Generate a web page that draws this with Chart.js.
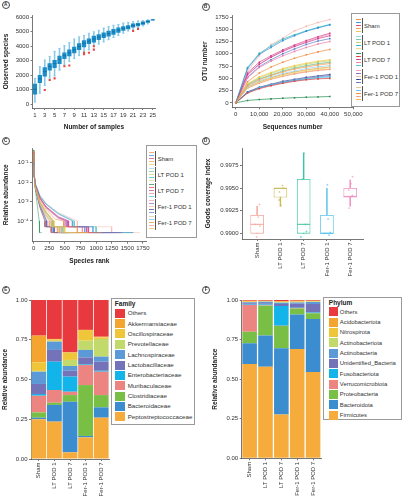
<!DOCTYPE html>
<html><head><meta charset="utf-8">
<script src="https://cdn.jsdelivr.net/npm/chart.js@4/dist/chart.umd.min.js"></script>
<style>
html,body{margin:0;padding:0;background:#fff;}
#page{position:relative;width:403px;height:500px;overflow:hidden;font-family:"Liberation Sans",Arial,Helvetica,sans-serif;color:#333;}
canvas{position:absolute;}
.tag{position:absolute;width:6.4px;height:6.4px;border:0.8px solid #444;border-radius:50%;font-size:4.6px;font-weight:bold;line-height:6.4px;text-align:center;color:#333;}
.lg{position:absolute;border:1px solid #9a9a9a;box-sizing:border-box;background:#fff;}
.lg div{position:absolute;white-space:nowrap;}
</style></head>
<body><div id="page">
<canvas id="cA" width="160" height="125" style="left:0;top:10px"></canvas>
<canvas id="cB" width="203" height="125" style="left:200px;top:10px"></canvas>
<canvas id="cC" width="200" height="133" style="left:0;top:137px"></canvas>
<canvas id="cD" width="203" height="150" style="left:200px;top:137px"></canvas>
<canvas id="cE" width="112" height="210" style="left:0;top:290px"></canvas>
<canvas id="cF" width="124" height="210" style="left:200px;top:290px"></canvas>
<div class="tag" style="left:1.5px;top:1px">A</div>
<div class="tag" style="left:201.5px;top:2.5px">B</div>
<div class="tag" style="left:1.5px;top:136.5px">C</div>
<div class="tag" style="left:201.5px;top:136.5px">D</div>
<div class="tag" style="left:1.5px;top:285.5px">E</div>
<div class="tag" style="left:202px;top:285.5px">F</div>
<div id="legB" class="lg" style="left:351px;top:13px;width:49px;height:94px"></div>
<div id="legC" class="lg" style="left:146px;top:145px;width:51px;height:93px"></div>
<div id="legE" class="lg" style="left:111px;top:298px;width:84px;height:127px"></div>
<div id="legF" class="lg" style="left:323px;top:297px;width:79px;height:123px"></div>
</div>
<script>
// ---------- DATA ----------
const GROUPS = ['Sham','LT POD 1','LT POD 7','Fer-1 POD 1','Fer-1 POD 7'];

// Panel A: species accumulation boxplots
const A_SAMPLES = [1,2,3,4,5,6,7,8,9,10,11,12,13,14,15,16,17,18,19,20,21,22,23,24,25];
const A_LO  = [150,750,1300,1800,1950,2350,2700,2950,3150,3350,3600,3750,4000,4150,4300,4450,4600,4750,4900,5050,5150,5300,5400,5550,5820];
const A_Q1  = [700,1480,1940,2350,2530,2800,3150,3330,3540,3760,3950,4180,4290,4450,4590,4700,4810,4950,5090,5200,5320,5410,5500,5640,5810];
const A_MED = [1030,1750,2250,2600,2800,3100,3350,3550,3750,3980,4200,4350,4500,4630,4760,4870,4990,5110,5230,5320,5430,5500,5590,5710,5820];
const A_Q3  = [1390,2000,2530,2800,3030,3330,3540,3760,3950,4180,4400,4520,4700,4810,4930,5040,5160,5270,5360,5430,5540,5590,5680,5770,5830];
const A_HI  = [1780,2600,3050,3300,3650,3850,4050,4250,4500,4650,4750,4900,5000,5100,5250,5350,5450,5500,5600,5650,5700,5750,5780,5820,5830];
const A_OUT_SAMPLE = [3,4,5,7,8,11,11,12,13,13,21,22];
const A_OUT_VALUE  = [980,1670,1780,2620,2670,3450,3550,3550,3770,4000,5050,5200];
const A_X_TICKS = [1,3,5,7,9,11,13,15,17,19,21,23,25];
const A_Y_TICKS = [0,1000,2000,3000,4000,5000,6000];

// Panel B: rarefaction curves (25 samples, 5 per group)
const SAMPLE_COLORS = [
 '#f08a3c','#2f8fd8','#d63c82','#f5a05a','#eec640',
 '#8fd3e8','#6cc3a0','#bcd35a','#2bb3b8','#e6dc86',
 '#1b8a4c','#e23b3b','#c8378f','#f07aa8','#3fc0e0',
 '#f29ac0','#8b63b8','#f6b3a8','#2d3f8f','#5a78d0',
 '#e2c39a','#68bfe8','#f28a24','#f29a8a','#f5b24a'];
const B_SEQ = [0,5000,10000,15000,20000,25000,30000,35000,40000];
const B_OTU = [
 [0,430,610,730,830,910,980,1040,1090],
 [0,700,990,1130,1270,1370,1460,1530,1590],
 [0,610,830,960,1080,1180,1270,1350,1420],
 [0,350,470,560,630,690,730,770,800],
 [0,390,530,620,700,760,810,850,880],
 [0,330,450,530,600,650,700,735,760],
 [0,370,490,570,650,710,760,800,830],
 [0,380,510,600,680,740,790,830,860],
 [0,720,1010,1160,1300,1390,1470,1540,1600],
 [0,310,420,500,560,620,660,690,720],
 [0,50,68,82,95,105,115,122,130],
 [0,200,290,350,400,440,470,490,500],
 [0,580,790,930,1050,1150,1230,1310,1370],
 [0,510,720,850,960,1050,1130,1200,1250],
 [0,210,310,370,420,460,490,520,540],
 [0,560,780,940,1060,1160,1250,1330,1400],
 [0,215,310,370,420,460,500,530,560],
 [0,650,960,1190,1320,1470,1560,1640,1700],
 [0,225,320,380,440,480,520,550,580],
 [0,520,740,880,1000,1100,1190,1260,1310],
 [0,360,480,560,640,700,750,790,820],
 [0,205,300,360,410,450,480,505,520],
 [0,320,430,510,580,630,670,705,730],
 [0,300,400,480,540,590,630,660,680],
 [0,305,410,490,550,600,640,670,690]];
const B_X_TICKS = [0,10000,20000,30000,40000,50000];
const B_Y_TICKS = [0,250,500,750,1000,1250,1500,1750];

// Panel C: rank-abundance curves [rank, relative abundance]
const C_CURVES = [
 [[1,.32],[3,.09],[10,.022],[30,.006],[100,.0012],[200,4e-4],[350,1.2e-4],[480,1e-4],[480,5e-5],[700,5e-5],[700,2.5e-5],[1090,2.5e-5]],
 [[1,.28],[3,.07],[10,.02],[30,.008],[100,.0019],[200,7e-4],[400,2.2e-4],[620,1e-4],[620,5e-5],[950,5e-5],[950,2.5e-5],[1590,2.5e-5]],
 [[1,.36],[3,.08],[10,.022],[30,.007],[100,.0016],[200,5.5e-4],[400,1.6e-4],[560,1e-4],[560,5e-5],[880,5e-5],[880,2.5e-5],[1420,2.5e-5]],
 [[1,.4],[3,.1],[10,.025],[30,.005],[100,9e-4],[200,2.6e-4],[300,1e-4],[300,5e-5],[450,5e-5],[450,2.5e-5],[800,2.5e-5]],
 [[1,.3],[3,.09],[10,.021],[30,.0055],[100,.001],[200,3e-4],[330,1e-4],[330,5e-5],[500,5e-5],[500,2.5e-5],[880,2.5e-5]],
 [[1,.34],[3,.1],[10,.024],[30,.005],[100,8e-4],[200,2.2e-4],[290,1e-4],[290,5e-5],[430,5e-5],[430,2.5e-5],[760,2.5e-5]],
 [[1,.3],[3,.085],[10,.02],[30,.0052],[100,9.5e-4],[200,2.8e-4],[310,1e-4],[310,5e-5],[470,5e-5],[470,2.5e-5],[830,2.5e-5]],
 [[1,.33],[3,.09],[10,.023],[30,.0056],[100,.001],[200,3e-4],[320,1e-4],[320,5e-5],[490,5e-5],[490,2.5e-5],[860,2.5e-5]],
 [[1,.25],[3,.06],[10,.018],[30,.0075],[100,.002],[200,7.5e-4],[400,2.4e-4],[650,1e-4],[650,5e-5],[1000,5e-5],[1000,2.5e-5],[1600,2.5e-5]],
 [[1,.38],[3,.1],[10,.024],[30,.0048],[100,7.5e-4],[200,2e-4],[270,1e-4],[270,5e-5],[400,5e-5],[400,2.5e-5],[720,2.5e-5]],
 [[1,.45],[3,.12],[10,.03],[30,.004],[60,6e-4],[90,1e-4],[95,2.5e-5],[130,2.5e-5]],
 [[1,.4],[3,.11],[10,.025],[30,.0045],[100,5e-4],[180,1e-4],[180,5e-5],[280,5e-5],[280,2.5e-5],[500,2.5e-5]],
 [[1,.33],[3,.08],[10,.021],[30,.0068],[100,.0015],[200,5e-4],[400,1.5e-4],[540,1e-4],[540,5e-5],[850,5e-5],[850,2.5e-5],[1370,2.5e-5]],
 [[1,.35],[3,.085],[10,.022],[30,.0065],[100,.0014],[200,4.5e-4],[400,1.3e-4],[500,1e-4],[500,5e-5],[780,5e-5],[780,2.5e-5],[1250,2.5e-5]],
 [[1,.42],[3,.1],[10,.024],[30,.0046],[100,5.5e-4],[190,1e-4],[190,5e-5],[300,5e-5],[300,2.5e-5],[540,2.5e-5]],
 [[1,.3],[3,.075],[10,.02],[30,.0068],[100,.0016],[200,5.5e-4],[400,1.6e-4],[560,1e-4],[560,5e-5],[870,5e-5],[870,2.5e-5],[1400,2.5e-5]],
 [[1,.36],[3,.1],[10,.023],[30,.0047],[100,6e-4],[200,1.1e-4],[210,1e-4],[210,5e-5],[320,5e-5],[320,2.5e-5],[560,2.5e-5]],
 [[1,.26],[3,.065],[10,.019],[30,.008],[100,.0021],[200,8e-4],[400,2.6e-4],[700,1e-4],[700,5e-5],[1250,5e-5],[1250,2.5e-5],[1700,2.5e-5]],
 [[1,.38],[3,.1],[10,.024],[30,.0048],[100,6.2e-4],[210,1e-4],[210,5e-5],[330,5e-5],[330,2.5e-5],[580,2.5e-5]],
 [[1,.31],[3,.08],[10,.021],[30,.0066],[100,.0015],[200,5e-4],[400,1.4e-4],[520,1e-4],[520,5e-5],[820,5e-5],[820,2.5e-5],[1310,2.5e-5]],
 [[1,.35],[3,.09],[10,.022],[30,.0053],[100,9e-4],[200,2.7e-4],[310,1e-4],[310,5e-5],[460,5e-5],[460,2.5e-5],[820,2.5e-5]],
 [[1,.4],[3,.11],[10,.025],[30,.0045],[100,5.2e-4],[185,1e-4],[185,5e-5],[290,5e-5],[290,2.5e-5],[520,2.5e-5]],
 [[1,.33],[3,.095],[10,.023],[30,.005],[100,8e-4],[200,2.1e-4],[280,1e-4],[280,5e-5],[410,5e-5],[410,2.5e-5],[730,2.5e-5]],
 [[1,.37],[3,.1],[10,.024],[30,.0049],[100,7e-4],[200,1.7e-4],[250,1e-4],[250,5e-5],[380,5e-5],[380,2.5e-5],[680,2.5e-5]],
 [[1,.36],[3,.1],[10,.023],[30,.0049],[100,7.2e-4],[200,1.8e-4],[260,1e-4],[260,5e-5],[390,5e-5],[390,2.5e-5],[690,2.5e-5]]];
const C_X_TICKS = [0,250,500,750,1000,1250,1500,1750];
const C_Y_TICKS = [1e-4,1e-3,1e-2,1e-1];

// Panel D: Good's coverage boxplots
const D_COLORS = ['#f4a39b','#c9bb55','#3cc5a4','#59c3ec','#f18dbf'];
const D_LO  = [0.9900,0.9930,0.9900,0.9900,0.9930];
const D_Q1  = [0.9900,0.9940,0.9900,0.9900,0.9940];
const D_MED = [0.9910,0.9950,0.9910,0.9900,0.9941];
const D_Q3  = [0.9920,0.9950,0.9960,0.9920,0.9950];
const D_HI  = [0.9930,0.9950,0.9989,0.9950,0.9959];
const D_POINTS = [
 [0.9932,0.9918,0.9908,0.9910,0.9896],
 [0.9953,0.9946,0.9937,0.9931,0.9950],
 [0.9989,0.9960,0.9910,0.9902,0.9896],
 [0.9954,0.9916,0.9900,0.9898,0.9901],
 [0.9963,0.9955,0.9948,0.9942,0.9928]];
const D_JITTER = [
 [0.10,0.05,0.12,-0.08,-0.02],
 [0.09,-0.04,-0.06,0.02,0.12],
 [0.01,-0.05,0.08,0.12,-0.12],
 [0.02,0.05,-0.10,0.09,0.14],
 [0.10,0.03,-0.06,0.09,-0.05]];
const D_Y_TICKS = [0.9900,0.9925,0.9950,0.9975];

// Panel E: family composition (legend order, top to bottom)
const E_FAMILIES = ['Others','Akkermansiaceae','Oscillospiraceae','Prevotellaceae','Lachnospiraceae','Lactobacillaceae','Enterobacteriaceae','Muribaculaceae','Clostridiaceae','Bacteroidaceae','Peptostreptococcaceae'];
const E_COLORS = ['#e8393e','#f4a52f','#efc63a','#c2da6b','#5b9ad6','#7472b8','#13b4ea','#ec8581','#79bf45','#3b8dd0','#f5ac3c'];
const E_VALUES = [
 [0.224,0.245,0.329,0.188,0.231],
 [0.168,0.004,0.002,0.001,0.004],
 [0.054,0.008,0.046,0.067,0.010],
 [0.005,0.005,0.038,0.058,0.111],
 [0.077,0.052,0.030,0.047,0.032],
 [0.063,0.074,0.037,0.044,0.057],
 [0.011,0.178,0.095,0.004,0.006],
 [0.105,0.080,0.021,0.126,0.147],
 [0.033,0.014,0.042,0.320,0.077],
 [0.010,0.105,0.318,0.009,0.065],
 [0.250,0.235,0.042,0.136,0.260]];

// Panel F: phylum composition (legend order, top to bottom)
const F_PHYLA = ['Others','Acidobacteriota','Nitrospirota','Actinobacteriota','Actinobacteria','Unidentified_Bacteria','Fusobacteriota','Verrucomicrobiota','Proteobacteria','Bacteroidota','Firmicutes'];
const F_COLORS = ['#e8393e','#f4a52f','#efc63a','#c2da6b','#5b9ad6','#7472b8','#13b4ea','#ec8581','#79bf45','#3b8dd0','#f5ac3c'];
const F_VALUES = [
 [0.005,0.004,0.007,0.005,0.004],
 [0.005,0.003,0.004,0.005,0.004],
 [0.002,0.002,0.003,0.003,0.002],
 [0.003,0.002,0.003,0.003,0.002],
 [0.006,0.010,0.008,0.008,0.013],
 [0.008,0.008,0.013,0.025,0.054],
 [0.003,0.004,0.124,0.002,0.003],
 [0.168,0.003,0.002,0.002,0.002],
 [0.074,0.189,0.141,0.038,0.036],
 [0.130,0.196,0.419,0.219,0.335],
 [0.596,0.579,0.276,0.690,0.545]];
const EF_Y_TICKS = [0,0.25,0.5,0.75,1];

// ---------- HELPERS ----------
Chart.defaults.font.family = "'Liberation Sans', Arial, Helvetica, sans-serif";
Chart.defaults.font.size = 6;
Chart.defaults.color = '#333';
Chart.defaults.animation = false;
Chart.defaults.responsive = false;
Chart.defaults.plugins.legend.display = false;
Chart.defaults.plugins.tooltip.enabled = false;

function hexA(h,a){const n=parseInt(h.slice(1),16);return 'rgba('+(n>>16&255)+','+(n>>8&255)+','+(n&255)+','+a+')';}
const plain = v => String(v);
function ax(o){
  const s = {
    type:o.type||'linear', offset:!!o.offset,
    border:{display:true,color:'#555',width:0.8},
    grid:{display:true,drawOnChartArea:false,drawTicks:true,tickLength:2,tickWidth:0.8,tickColor:'#555',offset:false},
    ticks:{font:{size:6},color:'#333',padding:1.5,autoSkip:false,maxRotation:o.rot||0,minRotation:o.rot||0},
    title:o.title?{display:true,text:o.title,font:{size:6.5,weight:'bold'},color:'#222',padding:o.tp||{top:2,bottom:2}}:{display:false}
  };
  if (o.min!==undefined) s.min=o.min;
  if (o.max!==undefined) s.max=o.max;
  if (o.cb) s.ticks.callback=o.cb;
  if (o.stacked) s.stacked=true;
  if (o.type!=='category') s.beginAtZero=false;
  if (o.ticksAt) s.afterBuildTicks = sc => { sc.ticks = o.ticksAt.map(v=>({value:v})); };
  if (o.w!=null) s.afterFit = sc => { sc.width = o.w; };
  if (o.h!=null) s.afterFit = sc => { sc.height = o.h; };
  return s;
}

// ---------- PANEL A ----------
new Chart(document.getElementById('cA'), {
  type:'bar',
  data:{datasets:[
    {type:'scatter', data:A_OUT_SAMPLE.map((s,i)=>({x:s,y:A_OUT_VALUE[i]})), pointStyle:'rect', pointRadius:1.5, pointBackgroundColor:'#e8473e', pointBorderWidth:0, order:0},
    {type:'scatter', data:A_SAMPLES.map((s,i)=>({x:s,y:A_MED[i]})), pointStyle:'line', pointRadius:1.8, pointBorderColor:'#0e6a9c', pointBorderWidth:0.8, order:1},
    {type:'bar', data:A_SAMPLES.map((s,i)=>({x:s,y:[A_Q1[i],A_Q3[i]]})), backgroundColor:'#1b8dc8', barThickness:3.6, grouped:false, order:2},
    {type:'scatter', data:A_SAMPLES.map((s,i)=>({x:s,y:A_LO[i]})).concat(A_SAMPLES.map((s,i)=>({x:s,y:A_HI[i]}))), pointStyle:'line', pointRadius:1.2, pointBorderColor:'#86c8e6', pointBorderWidth:0.7, order:3},
    {type:'bar', data:A_SAMPLES.map((s,i)=>({x:s,y:[A_LO[i],A_HI[i]]})), backgroundColor:'#86c8e6', barThickness:0.9, grouped:false, order:4}
  ]},
  options:{layout:{padding:{top:4.5,right:4,left:0,bottom:0}},
    scales:{
      x:ax({min:0.5,max:25.5,ticksAt:A_X_TICKS,h:27,title:'Number of samples',tp:{top:2,bottom:4.1},cb:plain}),
      y:ax({min:-260,max:6150,ticksAt:A_Y_TICKS,w:32.5,title:'Observed species',tp:{top:2.1,bottom:2},cb:plain})
    }}
});

// ---------- PANEL B ----------
new Chart(document.getElementById('cB'), {
  type:'line',
  data:{datasets:B_OTU.map((vals,k)=>({
    data:vals.map((v,i)=>({x:B_SEQ[i],y:v})),
    borderColor:hexA(SAMPLE_COLORS[k],0.85), borderWidth:0.8, tension:0,
    pointStyle:'rect', pointRadius:1.1, pointBackgroundColor:SAMPLE_COLORS[k], pointBorderWidth:0
  }))},
  options:{layout:{padding:{top:4,right:49.7,left:0,bottom:0}},
    scales:{
      x:ax({min:-1600,max:50000,ticksAt:B_X_TICKS,h:27.7,title:'Sequences number',tp:{top:2,bottom:4},cb:v=>Number(v).toLocaleString('en-US')}),
      y:ax({min:-90,max:1790,ticksAt:B_Y_TICKS,w:32,title:'OTU number',tp:{top:1.1,bottom:2},cb:plain})
    }}
});

// ---------- PANEL C ----------
const SUP = {'-':'\u207B','0':'\u2070','1':'\u00B9','2':'\u00B2','3':'\u00B3','4':'\u2074','5':'\u2075'};
new Chart(document.getElementById('cC'), {
  type:'line',
  data:{datasets:C_CURVES.map((pts,k)=>({
    data:pts.map(p=>({x:p[0],y:p[1]})),
    borderColor:hexA(SAMPLE_COLORS[k],0.7), borderWidth:0.7, tension:0, pointRadius:0
  }))},
  options:{layout:{padding:{top:11,right:53.3,left:0,bottom:0}},
    scales:{
      x:ax({min:-25,max:1810,ticksAt:C_X_TICKS,h:28.3,title:'Species rank',tp:{top:2,bottom:5.1},cb:plain}),
      y:ax({type:'logarithmic',min:8.5e-6,max:0.562,ticksAt:C_Y_TICKS,w:32,title:'Relative abundance',tp:{top:2.1,bottom:2},
        cb:v=>'10'+String(Math.round(Math.log10(v))).split('').map(c=>SUP[c]).join('')})
    }}
});

// ---------- PANEL D ----------
new Chart(document.getElementById('cD'), {
  type:'bar',
  data:{datasets:[
    {type:'scatter', data:[].concat(...D_POINTS.map((arr,g)=>arr.map((v,j)=>({x:g+D_JITTER[g][j],y:v})))),
      pointRadius:0.9, pointBackgroundColor:[].concat(...D_POINTS.map((arr,g)=>arr.map(()=>hexA(D_COLORS[g],0.7)))), pointBorderWidth:0, order:0},
    {type:'scatter', data:GROUPS.map((g,i)=>({x:i,y:D_MED[i]})), pointStyle:'line', pointRadius:6.5, pointBorderColor:D_COLORS, pointBorderWidth:1, order:1},
    {type:'bar', data:GROUPS.map((g,i)=>({x:i,y:[D_Q1[i],D_Q3[i]]})), backgroundColor:'#ffffff', borderColor:D_COLORS, borderWidth:0.8, borderSkipped:false, barThickness:13, grouped:false, order:2},
    {type:'bar', data:GROUPS.map((g,i)=>({x:i,y:[D_LO[i],D_HI[i]]})), backgroundColor:D_COLORS, barThickness:0.8, grouped:false, order:3}
  ]},
  options:{layout:{padding:{top:11,right:40,left:0,bottom:0}},
    scales:{
      x:ax({min:-0.65,max:4.55,ticksAt:[0,1,2,3,4],h:48,rot:90,cb:v=>GROUPS[v]}),
      y:ax({min:0.98937,max:0.99947,ticksAt:D_Y_TICKS,w:42,title:'Goods coverage index',tp:{top:4.4,bottom:2},cb:v=>Number(v).toFixed(4)})
    }}
});

// ---------- PANELS E & F ----------
function stackChart(id, names, colors, values, yW, padR, yTitlePad, barPct){
  const ds = names.map((n,k)=>({label:n,data:values[k],backgroundColor:colors[k],borderWidth:0,barPercentage:barPct,categoryPercentage:1})).reverse();
  new Chart(document.getElementById(id), {
    type:'bar',
    data:{labels:GROUPS, datasets:ds},
    options:{layout:{padding:{top:10,right:padR,left:0,bottom:0}},
      scales:{
        x:ax({type:'category',offset:true,stacked:true,rot:90,h:(id==='cE'?41:41.7)}),
        y:ax({min:0,max:1,stacked:true,ticksAt:EF_Y_TICKS,w:yW,title:'Relative abundance',tp:{top:yTitlePad,bottom:2},cb:v=>Number(v).toFixed(2)})
      }}
  });
}
stackChart('cE', E_FAMILIES, E_COLORS, E_VALUES, 31, 3, 1.1, 0.95);
stackChart('cF', F_PHYLA, F_COLORS, F_VALUES, 41.7, 3, 11.1, 0.92);

// ---------- LEGENDS ----------
function el(parent, css, text){const d=document.createElement('div');d.style.cssText=css;if(text!==undefined)d.textContent=text;parent.appendChild(d);return d;}
function groupLegend(id, gTop, gPitch, ePitch, lineX, lineW, barX, textX, withDot){
  const box=document.getElementById(id);
  GROUPS.forEach((g,i)=>{
    const top=gTop+i*gPitch;
    for(let j=0;j<5;j++){
      const k=i*5+j, y=top+1.5+j*ePitch;
      el(box,'left:'+lineX+'px;top:'+(y-0.4)+'px;width:'+lineW+'px;height:0.8px;background:'+hexA(SAMPLE_COLORS[k],withDot?0.85:0.7));
      if(withDot) el(box,'left:'+(lineX+lineW/2-0.8)+'px;top:'+(y-0.8)+'px;width:1.6px;height:1.6px;background:'+SAMPLE_COLORS[k]);
    }
    el(box,'left:'+barX+'px;top:'+top+'px;width:0.8px;height:'+(ePitch*4+3)+'px;background:#555');
    el(box,'left:'+textX+'px;top:'+(top+7.5-4)+'px;font-size:6px;line-height:8px;color:#333',g);
  });
}
groupLegend('legB', 4, 17, 3, 3.5, 5, 9.7, 12, true);
groupLegend('legC', 5, 16, 2.9, 2, 5, 8.3, 10.7, false);

function boxLegend(id, title, names, colors, firstC, pitch, swX, swW, txX, fs){
  const box=document.getElementById(id);
  el(box,'left:'+(swX-0.5)+'px;top:0.5px;font-size:6.5px;font-weight:bold;line-height:8px;color:#222',title);
  names.forEach((n,k)=>{
    const c=firstC+k*pitch;
    el(box,'left:'+swX+'px;top:'+(c-4.5)+'px;width:'+swW+'px;height:9px;background:'+colors[k]);
    el(box,'left:'+txX+'px;top:'+(c-4)+'px;font-size:'+fs+'px;line-height:8px;color:#333',n);
  });
}
boxLegend('legE','Family',E_FAMILIES,E_COLORS,14.3,10.34,3.3,10,15.7,6.2);
boxLegend('legF','Phylum',F_PHYLA,F_COLORS,13.7,10.33,5.3,9,15.8,5.9);
</script>
</body></html>
